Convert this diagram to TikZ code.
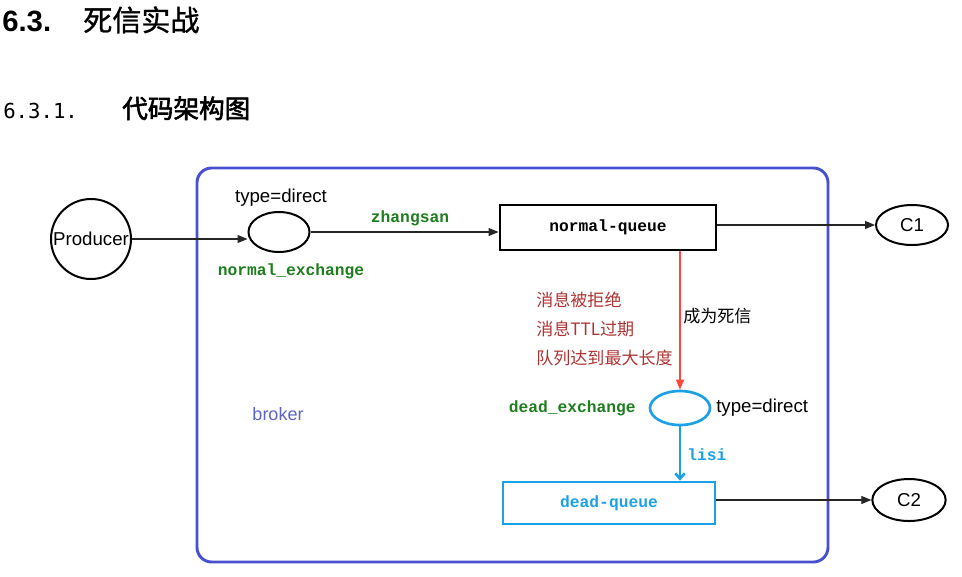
\documentclass[tikz,border=0pt]{standalone}
\usepackage{fontspec}
\setmainfont{Liberation Sans}
\setmonofont{Liberation Mono}
\newfontfamily\cjk{Noto Sans CJK SC}
\newfontfamily\cjkmid[FakeBold=1]{Noto Sans CJK SC}
\newfontfamily\cjkstrong[FakeBold=2.2]{Noto Sans CJK SC}
\newfontfamily\digitmono{DejaVu Sans Mono}
\usetikzlibrary{shapes.geometric,arrows.meta}

\definecolor{brokerblue}{RGB}{72,80,208}
\definecolor{brokertext}{RGB}{92,100,200}
\definecolor{keygreen}{RGB}{30,125,30}
\definecolor{deadcyan}{RGB}{28,160,230}
\definecolor{deadred}{RGB}{255,70,60}
\definecolor{reasonred}{RGB}{175,50,50}

\tikzset{
  conn/.style={draw=black!85, line width=0.8pt, -{Triangle[length=7.5pt,width=6pt]}},
  monolabel/.style={font=\ttfamily\bfseries\fontsize{12.2}{14}\selectfont, inner sep=0pt},
  sanslabel/.style={font=\fontsize{14}{16}\selectfont, inner sep=0pt},
  cjklabel/.style={font=\cjk\fontsize{12.8}{15}\selectfont, inner sep=0pt},
  exch/.style={ellipse, draw, line width=1.5pt, inner sep=0pt},
  queuebox/.style={rectangle, draw, inner sep=0pt},
}

\begin{document}
\begin{tikzpicture}[x=0.75pt,y=-0.75pt]
\useasboundingbox (0,0) rectangle (962,576);

% headings
\node[anchor=base west, inner sep=0pt, font=\bfseries\fontsize{22}{26}\selectfont] (secnum) at (2,31) {6.3.};
\node[anchor=base west, inner sep=0pt, font=\cjkmid\fontsize{21.8}{26}\selectfont] (sectitle) at (83,31) {死信实战};
\node[anchor=base west, inner sep=0pt, font=\digitmono\fontsize{15.5}{18}\selectfont] (subnum) at (3,118) {6.3.1.};
\node[anchor=base west, inner sep=0pt, font=\cjkstrong\fontsize{19.2}{23}\selectfont] (subtitle) at (122,118) {代码架构图};

% broker frame
\draw[brokerblue, line width=2.2pt, rounded corners=11pt] (197,168) rectangle (828,562);
\node[font=\fontsize{13.5}{16}\selectfont, text=brokertext, inner sep=0pt] (broker) at (278,414) {broker};

% nodes
\node[circle, draw, line width=1.5pt, minimum size=60pt, inner sep=0pt, font=\fontsize{14}{16}\selectfont] (producer) at (91,239) {Producer};
\node[exch, minimum width=45.75pt, minimum height=30pt] (nex) at (279,232) {};
\node[queuebox, line width=2.2pt, minimum width=162pt, minimum height=33.75pt, monolabel] (nq) at (608,227.5) {normal-queue};
\node[exch, minimum width=54pt, minimum height=30pt, font=\fontsize{14}{16}\selectfont] (c1) at (912,225) {C1};
\node[exch, draw=deadcyan, line width=2pt, minimum width=45pt, minimum height=25.5pt] (dex) at (680,408) {};
\node[queuebox, draw=deadcyan, line width=2pt, minimum width=159pt, minimum height=31.5pt, monolabel, text=deadcyan] (dq) at (609,503) {dead-queue};
\node[exch, minimum width=55pt, minimum height=31.5pt, font=\fontsize{14}{16}\selectfont] (c2) at (909,500) {C2};

% labels
\node[sanslabel] (ntype) at (281,198) {type=direct};
\node[monolabel, text=keygreen] (nexname) at (291,271) {normal\_exchange};
\node[monolabel, text=keygreen] (nkey) at (410,218) {zhangsan};
\node[cjklabel, anchor=west, text=reasonred] (r1) at (536,300) {消息被拒绝};
\node[cjklabel, anchor=west, text=reasonred] (r2) at (536,329) {消息TTL过期};
\node[cjklabel, anchor=west, text=reasonred] (r3) at (536,358) {队列达到最大长度};
\node[cjklabel, anchor=west] (becomes) at (683,316) {成为死信};
\node[monolabel, anchor=east, text=keygreen] (dexname) at (636,408) {dead\_exchange};
\node[sanslabel, anchor=west] (dtype) at (716,408) {type=direct};
\node[monolabel, anchor=west, text=deadcyan] (dkey) at (687,455) {lisi};

% connectors
\draw[conn] (producer.east) -- (nex.west |- producer.east);
\draw[conn] (nex.east) -- (nq.west |- nex.east);
\draw[conn] (nq.east |- c1.west) -- (c1.west);
\draw[draw=deadred, line width=0.8pt, -{Triangle[length=7.5pt,width=6pt]}] (nq.south -| dex.north) -- (dex.north);
\draw[draw=deadcyan, line width=2pt, -{Straight Barb[length=4pt,width=7pt]}] (dex.south) -- (dq.north -| dex.south);
\draw[conn] (dq.east |- c2.west) -- (c2.west);
\end{tikzpicture}
\end{document}
